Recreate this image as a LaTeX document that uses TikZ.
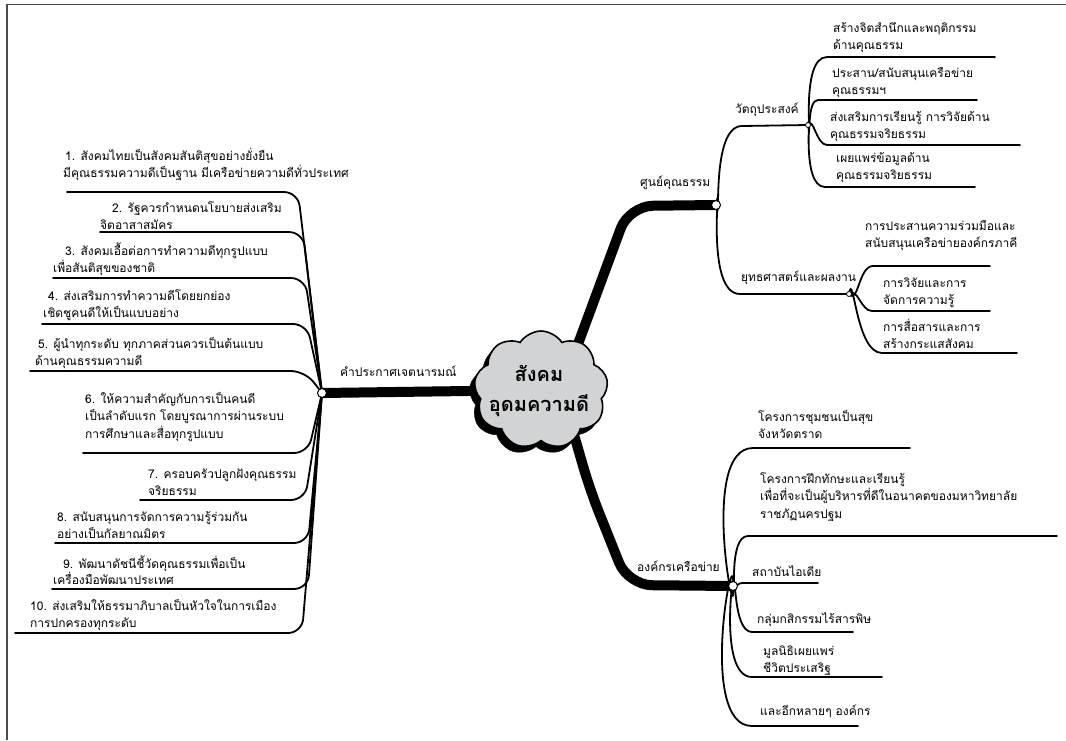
\documentclass[tikz,border=0pt]{standalone}
\usepackage{fontspec}
\setmainfont[Script=Thai]{Loma}
\usetikzlibrary{shapes.symbols}
\newcommand{\tst}{\rule{0pt}{13pt}}
\definecolor{cloudgray}{HTML}{D1D3D4}
\begin{document}
\begin{tikzpicture}[x=1pt,y=-1pt,
  txt/.style={anchor=north west, align=left, inner sep=0pt, font=\fontsize{12}{17.5}\selectfont},
  thin/.style={line width=1.8pt, line cap=round},
  main/.style={line width=10pt, rounded corners=24pt},
  dot/.style={circle, draw, fill=white, line width=1pt, inner sep=0pt, minimum size=9pt},
  sdot/.style={circle, draw, fill=white, line width=0.8pt, inner sep=0pt, minimum size=5pt},
  cloudbox/.style={cloud, cloud puffs=9, cloud puff arc=115, aspect=1.1, minimum width=134pt, minimum height=118pt, inner sep=0pt}
]
\useasboundingbox (0,0) rectangle (1066,740);
\draw[line width=1.5pt, black!70] (7,740) -- (7,4.5) -- (1066,4.5);

% key points
\coordinate (L) at (322,393);
\coordinate (S) at (716,205);
\coordinate (O) at (733,586);
\coordinate (V) at (808,125);
\coordinate (Y) at (849,294);
\coordinate (C) at (541,390);

% main branches
\draw[main] ([xshift=20pt]C) -- (629,206) -- (S);
\draw[main] ([xshift=20pt]C) -- (590,490) -- (628,585) -- (O);
\draw[main] (C) -- (L);

% cloud
\node[cloudbox, fill=black, draw=black] (shadow) at ([shift={(-5,6)}]C) {};
\node[cloudbox, fill=cloudgray, draw=black, line width=1.6pt] (cl) at (C) {};
\node[font=\fontsize{20}{30}\selectfont\bfseries, align=center, inner sep=0pt] (ct) at (539,391) {สังคม\\อุดมความดี};

% left branch items
\node[txt] (l0) at (340,363) {\tst คำประกาศเจตนารมณ์};
\node[txt] (l1) at (63,147) {\hspace*{2pt}\tst 1. สังคมไทยเป็นสังคมสันติสุขอย่างยั่งยืน\\มีคุณธรรมความดีเป็นฐาน มีเครือข่ายความดีทั่วประเทศ};
\node[txt] (l2) at (100,199) {\hspace*{12pt}\tst 2. รัฐควรกำหนดนโยบายส่งเสริม\\จิตอาสาสมัคร};
\node[txt] (l3) at (53,242) {\hspace*{12pt}\tst 3. สังคมเอื้อต่อการทำความดีทุกรูปแบบ\\เพื่อสันติสุขของชาติ};
\node[txt] (l4) at (43,287) {\hspace*{5pt}\tst 4. ส่งเสริมการทำความดีโดยยกย่อง\\เชิดชูคนดีให้เป็นแบบอย่าง};
\node[txt] (l5) at (35,335) {\hspace*{3pt}\tst 5. ผู้นำทุกระดับ ทุกภาคส่วนควรเป็นต้นแบบ\\ด้านคุณธรรมความดี};
\node[txt] (l6) at (85,390) {\tst 6. ให้ความสำคัญกับการเป็นคนดี\\เป็นลำดับแรก โดยบูรณาการผ่านระบบ\\การศึกษาและสื่อทุกรูปแบบ};
\node[txt] (l7) at (148,465) {\tst 7. ครอบครัวปลูกฝังคุณธรรม\\จริยธรรม};
\node[txt] (l8) at (57,508) {\tst 8. สนับสนุนการจัดการความรู้ร่วมกัน\\อย่างเป็นกัลยาณมิตร};
\node[txt, font=\fontsize{12}{16}\selectfont] (l9) at (53,555) {\hspace*{10pt}\tst 9. พัฒนาดัชนีชี้วัดคุณธรรมเพื่อเป็น\\เครื่องมือพัฒนาประเทศ};
\node[txt] (l10) at (30,597) {\tst 10. ส่งเสริมให้ธรรมาภิบาลเป็นหัวใจในการเมือง\\การปกครองทุกระดับ};

\begin{scope}[thin, rounded corners=14pt]
\draw (L) -- (298,192) -- (67,192);
\draw (L) -- (303,232) -- (100,232);
\draw (L) -- (305,278) -- (53,278);
\draw (L) -- (307,324) -- (42,324);
\draw (L) -- (305,371) -- (30,371);
\draw (L) -- (308,453) -- (83,453);
\draw (L) -- (305,500) -- (140,500);
\draw (L) -- (308,543) -- (55,543);
\draw (L) -- (308,589) -- (52,589);
\draw (L) -- (302,633) -- (15,633);
\end{scope}

% top right
\node[txt] (s0) at (640,173) {\tst ศูนย์คุณธรรม};
\node[txt] (v0) at (735,100) {\tst วัตถุประสงค์};
\node[txt] (y0) at (741,268) {\tst ยุทธศาสตร์และผลงาน};
\draw[thin] (S) to[out=-80,in=180] (742,126) -- (V);
\draw[thin] (S) to[out=80,in=180] (740,294) -- (Y);

\node[txt] (v1) at (833,19) {\tst สร้างจิตสำนึกและพฤติกรรม\\ด้านคุณธรรม};
\node[txt] (v2) at (832,64) {\tst ประสาน/สนับสนุนเครือข่าย\\คุณธรรมฯ};
\node[txt] (v3) at (830,108) {\tst ส่งเสริมการเรียนรู้ การวิจัยด้าน\\คุณธรรมจริยธรรม};
\node[txt] (v4) at (836,149) {\tst เผยแพร่ข้อมูลด้าน\\คุณธรรมจริยธรรม};
\draw[thin] (V) to[out=-80,in=180] (827,57) -- (995,57);
\draw[thin] (V) to[out=-75,in=180] (818,100) -- (977,100);
\draw[thin] (V) to[out=60,in=180] (827,145) -- (1020,145);
\draw[thin] (V) to[out=80,in=180] (825,187) -- (975,187);

\node[txt] (y1) at (865,217) {\tst การประสานความร่วมมือและ\\สนับสนุนเครือข่ายองค์กรภาคี};
\node[txt] (y2) at (883,274) {\tst การวิจัยและการ\\จัดการความรู้};
\node[txt] (y3) at (883,318) {\tst การสื่อสารและการ\\สร้างกระแสสังคม};
\draw[thin] (Y) to[out=-50,in=180] (873,266) -- (990,266);
\draw[thin] (Y) to[out=40,in=180] (872,311) -- (990,311);
\draw[thin] (Y) to[out=80,in=180] (882,353) -- (1017,353);

% bottom right
\node[txt] (o0) at (637,558) {\tst องค์กรเครือข่าย};
\node[txt] (o1) at (758,408) {\tst โครงการชุมชนเป็นสุข\\จังหวัดตราด};
\node[txt] (o2) at (760,470) {\tst โครงการฝึกทักษะและเรียนรู้\\เพื่อที่จะเป็นผู้บริหารที่ดีในอนาคตของมหาวิทยาลัย\\ราชภัฏนครปฐม};
\node[txt] (o3) at (752,563) {\tst สถาบันไอเดีย};
\node[txt] (o4) at (757,610) {\tst กลุ่มกสิกรรมไร้สารพิษ};
\node[txt] (o5) at (763,642) {\tst มูลนิธิเผยแพร่\\ชีวิตประเสริฐ};
\node[txt] (o6) at (760,702) {\tst และอีกหลายๆ องค์กร};
\draw[thin] (O) to[out=-86,in=180] (753,448) -- (910,448);
\draw[thin] (O) to[out=-80,in=180] (748,536) -- (1057,536);
\draw[thin] (O) to[out=-15,in=180] (742,583) -- (818,583);
\draw[thin] (O) to[out=80,in=180] (752,632) -- (853,632);
\draw[thin] (O) to[out=85,in=180] (752,677) -- (882,677);
\draw[thin] (O) to[out=88,in=180] (752,726) -- (858,726);

% junction dots
\node[dot] (Ld) at (L) {};
\node[dot] (Sd) at (S) {};
\node[dot] (Od) at (O) {};
\node[sdot] (Vd) at (V) {};
\node[sdot] (Yd) at (Y) {};
\end{tikzpicture}
\end{document}
